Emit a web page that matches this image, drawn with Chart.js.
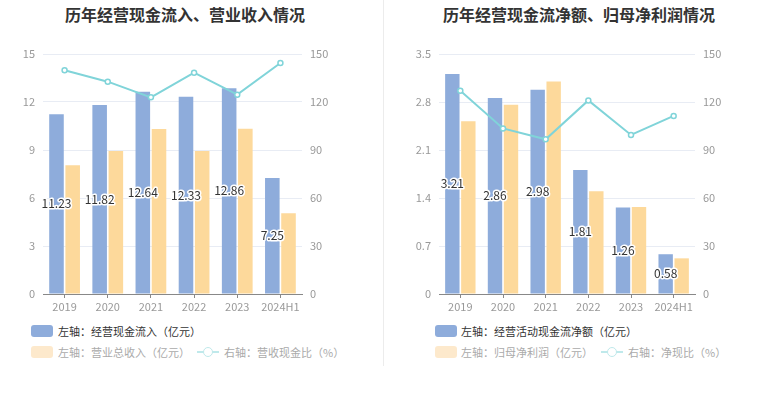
<!DOCTYPE html>
<html>
<head>
<meta charset="utf-8">
<script src="https://cdn.jsdelivr.net/npm/chart.js@4.4.1/dist/chart.umd.min.js"></script>
<style>
  body { margin: 0; background: #fff; font-family: "Noto Sans CJK SC", "Noto Sans", sans-serif; }
  #wrap { position: relative; width: 765px; height: 393px; overflow: hidden; }
  .title { position: absolute; top: 2px; font-size: 16px; font-weight: bold; color: #333; white-space: nowrap; transform: translateX(-50%); }
  .box { position: absolute; width: 22px; height: 12px; border-radius: 3px; }
  .txt { position: absolute; font-size: 11px; line-height: 14px; white-space: nowrap; }
  .lineIcon { position: absolute; width: 22px; height: 12px; }
  .lineIcon:before { content: ""; position: absolute; left: 0; right: 0; top: 5px; height: 2px; background: #bfe9eb; }
  .lineIcon:after { content: ""; position: absolute; left: 6px; top: 1px; width: 8px; height: 8px; border: 1.5px solid #bfe9eb; border-radius: 50%; background: #fff; }
  .sep { position: absolute; left: 383px; top: 0; width: 1px; height: 366px; background: #ececec; }
</style>
</head>
<body>
<div id="wrap">
  <div class="title" style="left:185px">历年经营现金流入、营业收入情况</div>
  <div class="title" style="left:579px">历年经营现金流净额、归母净利润情况</div>
  <div style="position:absolute;left:0;top:0;width:383px;height:320px"><canvas id="c1"></canvas></div>
  <div style="position:absolute;left:384px;top:0;width:381px;height:320px"><canvas id="c2"></canvas></div>
  <div class="sep"></div>

  <!-- 图例 左 -->
  <div class="box" style="left:31px;top:325px;background:#8eacdb"></div>
  <div class="txt" style="left:58px;top:324px;color:#333">左轴：经营现金流入（亿元）</div>
  <div class="box" style="left:31px;top:346px;background:#fde9cc"></div>
  <div class="txt" style="left:58px;top:345px;color:#aaa">左轴：营业总收入（亿元）</div>
  <div class="lineIcon" style="left:197px;top:346px"></div>
  <div class="txt" style="left:224px;top:345px;color:#aaa">右轴：营收现金比（%）</div>

  <!-- 图例 右 -->
  <div class="box" style="left:435px;top:325px;background:#8eacdb"></div>
  <div class="txt" style="left:461px;top:324px;color:#333">左轴：经营活动现金流净额（亿元）</div>
  <div class="box" style="left:435px;top:346px;background:#fde9cc"></div>
  <div class="txt" style="left:461px;top:345px;color:#aaa">左轴：归母净利润（亿元）</div>
  <div class="lineIcon" style="left:601px;top:346px"></div>
  <div class="txt" style="left:628px;top:345px;color:#aaa">右轴：净现比（%）</div>
</div>

<script>
// 数据
const years = ["2019", "2020", "2021", "2022", "2023", "2024H1"];
const cashInflow = [11.23, 11.82, 12.64, 12.33, 12.86, 7.25];
const revenue = [8.04, 8.94, 10.31, 8.94, 10.33, 5.04];
const inflowRatio = [139.8, 132.7, 122.9, 138.3, 124.6, 144.4];
const netCashFlow = [3.21, 2.86, 2.98, 1.81, 1.26, 0.58];
const netProfit = [2.52, 2.76, 3.10, 1.50, 1.27, 0.52];
const netRatio = [127.1, 103.5, 96.7, 121.0, 99.4, 111.3];

const BLUE = "#8eacdb";
const ORANGE = "#fdd99b";
const TEAL = "#80d4d9";
const FONT = "'Noto Sans CJK SC', 'Noto Sans', sans-serif";

// 柱子中间的数值标签
const barLabels = {
  id: "barLabels",
  afterDatasetsDraw(chart) {
    const ctx = chart.ctx;
    const meta = chart.getDatasetMeta(0);
    const values = chart.data.datasets[0].data;
    ctx.save();
    ctx.font = "12px " + FONT;
    ctx.textAlign = "center";
    ctx.textBaseline = "middle";
    ctx.lineWidth = 3;
    ctx.lineJoin = "round";
    ctx.strokeStyle = "#fff";
    ctx.fillStyle = "#333";
    meta.data.forEach((bar, i) => {
      const y = (bar.y + bar.base) / 2;
      const text = values[i].toFixed(2);
      ctx.strokeText(text, bar.x, y);
      ctx.fillText(text, bar.x, y);
    });
    ctx.restore();
  }
};

function makeChart(id, barA, barB, ratio, leftMax, leftStep, leftWidth, padRight) {
  const ctx = document.getElementById(id).getContext("2d");
  return new Chart(ctx, {
    type: "bar",
    data: {
      labels: years,
      datasets: [
        { data: barA, backgroundColor: BLUE, yAxisID: "y", order: 1,
          categoryPercentage: 0.75, barPercentage: 0.9 },
        { data: barB, backgroundColor: ORANGE, yAxisID: "y", order: 1,
          categoryPercentage: 0.75, barPercentage: 0.9 },
        { type: "line", data: ratio, yAxisID: "y1", order: 0,
          borderColor: TEAL, borderWidth: 2, pointRadius: 2.5,
          pointBackgroundColor: "#fff", pointBorderColor: TEAL, pointBorderWidth: 1.5,
          tension: 0 }
      ]
    },
    options: {
      responsive: true,
      maintainAspectRatio: false,
      animation: false,
      layout: { padding: { top: 54, right: padRight, left: 0, bottom: 0 } },
      plugins: { legend: { display: false }, tooltip: { enabled: false } },
      scales: {
        x: {
          grid: { display: true, drawOnChartArea: false, offset: false, tickLength: 4, color: "#888" },
          border: { color: "#888" },
          ticks: { color: "#999", font: { size: 11, family: FONT }, padding: 2,
                   maxRotation: 0, minRotation: 0, autoSkip: false },
          afterFit: (s) => { s.height = 26; }
        },
        y: {
          position: "left",
          min: 0, max: leftMax,
          ticks: { stepSize: leftStep, color: "#999", font: { size: 11, family: FONT }, padding: 8 },
          grid: { color: "#e8ecf4", drawTicks: false },
          border: { display: false },
          afterFit: (s) => { s.width = leftWidth; }
        },
        y1: {
          position: "right",
          min: 0, max: 150,
          ticks: { stepSize: 30, color: "#999", font: { size: 11, family: FONT }, padding: 8 },
          grid: { drawOnChartArea: false, drawTicks: false },
          border: { display: false },
          afterFit: (s) => { s.width = 40; }
        }
      }
    },
    plugins: [barLabels]
  });
}

makeChart("c1", cashInflow, revenue, inflowRatio, 15, 3, 43, 41);
makeChart("c2", netCashFlow, netProfit, netRatio, 3.5, 0.7, 55, 30);
</script>
</body>
</html>
